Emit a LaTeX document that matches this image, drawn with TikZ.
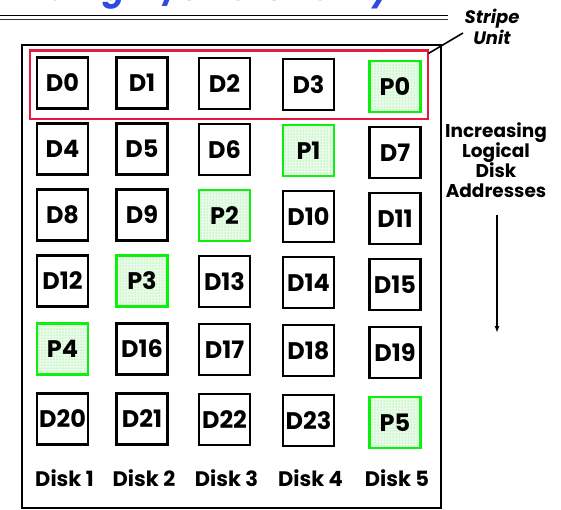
\documentclass[tikz,border=0pt]{standalone}
\usepackage{fontspec}
\setmainfont{Poppins}
\usepackage{xcolor}
\usepackage{tikz}
\usetikzlibrary{positioning,fit,patterns,arrows.meta}
\definecolor{stripered}{RGB}{230,25,65}
\definecolor{paritygreen}{RGB}{10,240,10}
\definecolor{parityfill}{RGB}{236,250,236}
\definecolor{titleblue}{RGB}{45,75,225}
\def\colx{{62.5,142,224.5,308.5,395}}
\def\coldy{{0,0,0.5,1.5,3.5}}

\begin{document}
\begin{tikzpicture}[x=1pt,y=-1pt,
 blk/.style={draw=black,line width=2.2pt,minimum size=51pt,inner sep=0pt,font=\fontsize{24}{24}\selectfont\bfseries},
 par/.style={blk,draw=paritygreen,fill=parityfill,postaction={pattern=dots,pattern color=green!75}},
 disk/.style={font=\fontsize{21}{21}\selectfont\bfseries},
 side/.style={font=\fontsize{18.5}{20}\selectfont\bfseries,align=center}]
 \useasboundingbox (0,0) rectangle (561,509);
 % title, cut off by the top edge
 \node[anchor=base east,inner sep=0pt,text=titleblue,font=\fontsize{32}{32}\selectfont\bfseries\itshape] (title) at (392,0.5) {RAID 5+: High I/O Rate Parity};
 \draw[line width=1.8pt] (0,15.5) -- (448,15.5);
 \draw[line width=1pt,black!80] (0,19) -- (448,19);
 % the five disks
 \draw[line width=2.2pt] (22,45) rectangle (441,508);
 \foreach \st/\lab [count=\c from 0] in {blk/D0,blk/D1,blk/D2,blk/D3,par/P0}
  \node[\st] (\lab) at ({\colx[\c]},{83+\coldy[\c]}) {\lab};
 \foreach \st/\lab [count=\c from 0] in {blk/D4,blk/D5,blk/D6,par/P1,blk/D7}
  \node[\st] (\lab) at ({\colx[\c]},{149+\coldy[\c]}) {\lab};
 \foreach \st/\lab [count=\c from 0] in {blk/D8,blk/D9,par/P2,blk/D10,blk/D11}
  \node[\st] (\lab) at ({\colx[\c]},{215+\coldy[\c]}) {\lab};
 \foreach \st/\lab [count=\c from 0] in {blk/D12,par/P3,blk/D13,blk/D14,blk/D15}
  \node[\st] (\lab) at ({\colx[\c]},{281+\coldy[\c]}) {\lab};
 \foreach \st/\lab [count=\c from 0] in {par/P4,blk/D16,blk/D17,blk/D18,blk/D19}
  \node[\st] (\lab) at ({\colx[\c]},{349+\coldy[\c]}) {\lab};
 \foreach \st/\lab [count=\c from 0] in {blk/D20,blk/D21,blk/D22,blk/D23,par/P5}
  \node[\st] (\lab) at ({\colx[\c]},{419+\coldy[\c]}) {\lab};
 \foreach \c in {1,...,5}
  \node[disk] (disk\c) at ({\colx[\c-1]+2},478) {Disk \c};
 % stripe unit
 \node[draw=stripered,line width=2.2pt,inner sep=6pt,fit=(D0)(P0)] (stripebox) {};
 \node[font=\fontsize{18}{21}\selectfont\bfseries\itshape,align=center] (stripelbl) at (492,27) {Stripe\\Unit};
 \coordinate (stripetip) at (463,33);
 \draw[line width=1.6pt] ([yshift=-4pt]stripebox.north east) -- (stripetip);
 % address order
 \node[side] (incr) at (496,160) {Increasing\\Logical\\Disk\\Addresses};
 \coordinate (addrtop) at (497,215);
 \coordinate (addrend) at (497,333);
 \draw[line width=1.4pt,-{Latex[length=7pt,width=5pt]}] (addrtop) -- (addrend);
\end{tikzpicture}
\end{document}
